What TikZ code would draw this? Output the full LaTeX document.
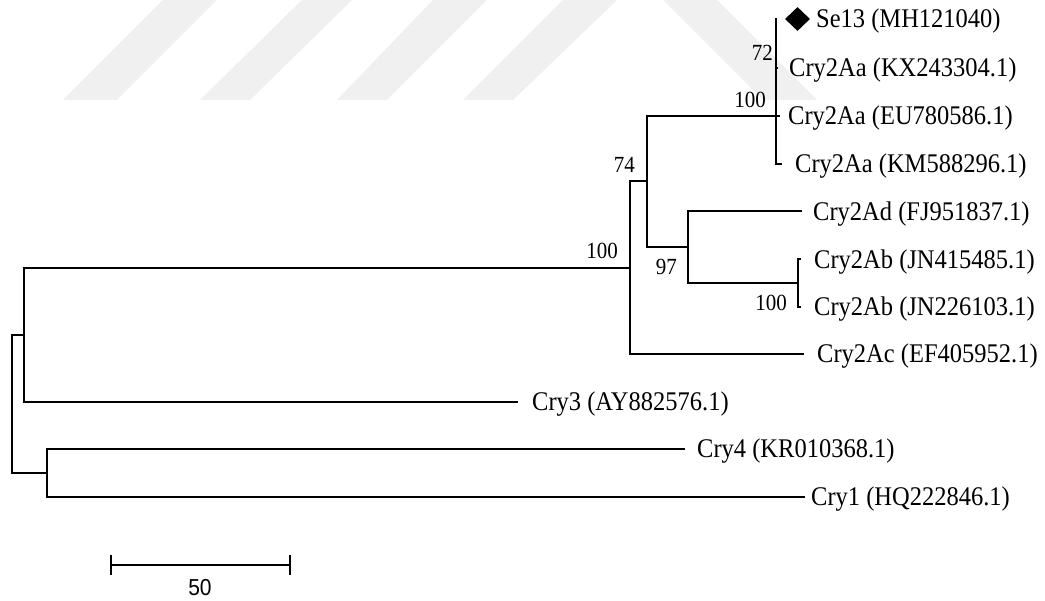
\documentclass[tikz,border=0pt]{standalone}
\usepackage{graphicx}
\usepackage{fontspec}
\setmainfont{Liberation Serif}
\newfontfamily\sansf{Liberation Sans}
\usetikzlibrary{shapes.geometric}
\newcommand\tallt[1]{\scalebox{1}[1.1]{#1}}
\begin{document}
\begin{tikzpicture}[x=1pt,y=-1pt,
  branch/.style={line width=2pt, line join=miter},
  leaf/.style={anchor=base west, inner sep=0pt, font=\fontsize{24.5}{28}\selectfont},
  boot/.style={anchor=base east, inner sep=0pt, font=\fontsize{21}{24}\selectfont},
  wm/.style={fill=black!6, draw=none}]
\useasboundingbox[fill=white] (0,0) rectangle (1045,601);
% faint watermark
\fill[wm] (63,100) -- (117,100) -- (217,0) -- (163,0) -- cycle;
\fill[wm] (200,100) -- (250,100) -- (352,0) -- (302,0) -- cycle;
\fill[wm] (337,100) -- (387,100) -- (487,0) -- (433,0) -- cycle;
\fill[wm] (463,100) -- (513,100) -- (617,0) -- (563,0) -- cycle;
\fill[wm] (663,0) -- (717,0) -- (817,100) -- (763,100) -- cycle;

% tips
\coordinate (t1) at (777,19);
\coordinate (t2) at (778,68);
\coordinate (t3) at (780,116);
\coordinate (t4) at (782,164);
\coordinate (t5) at (802,211.5);
\coordinate (t6) at (801,259.5);
\coordinate (t7) at (801,307);
\coordinate (t8) at (804,354);
\coordinate (t9) at (518,402);
\coordinate (t10) at (685,449);
\coordinate (t11) at (805,497);
% internal nodes
\coordinate (nA) at (776,116);
\coordinate (n74) at (647,181.5);
\coordinate (n97) at (688,247);
\coordinate (nAb) at (798,283);
\coordinate (n100) at (630,268);
\coordinate (nR2) at (23.5,335);
\coordinate (nC14) at (46.5,473);
\coordinate (root) at (11.5,404);

% branches
\draw[branch] (root) |- (nR2);
\draw[branch] (root) |- (nC14);
\draw[branch] (nR2) |- (n100);
\draw[branch] (nR2) |- (t9);
\draw[branch] (nC14) |- (t10);
\draw[branch] (nC14) |- (t11);
\draw[branch] (n100) |- (n74);
\draw[branch] (n100) |- (t8);
\draw[branch] (n74) |- (nA);
\draw[branch] (n74) |- (n97);
\draw[branch] (n97) |- (t5);
\draw[branch] (n97) |- (nAb);
\draw[branch] (nAb) |- (t6);
\draw[branch] (nAb) |- (t7);
\draw[branch] (nA) |- (t1);
\draw[branch] (nA) |- (t2);
\draw[branch] (nA) |- (t3);
\draw[branch] (nA) |- (t4);

% marker
\node[diamond, fill=black, minimum width=25pt, minimum height=24pt, inner sep=0pt] (mark) at (797.5,19) {};

% leaf labels
\node[leaf] (l1) at (816,28) {\tallt{Se13 (MH121040)}};
\node[leaf] (l2) at (789,77) {\tallt{Cry2Aa (KX243304.1)}};
\node[leaf] (l3) at (788,125) {\tallt{Cry2Aa (EU780586.1)}};
\node[leaf] (l4) at (795,173) {\tallt{Cry2Aa (KM588296.1)}};
\node[leaf] (l5) at (813,220.5) {\tallt{Cry2Ad (FJ951837.1)}};
\node[leaf] (l6) at (814,268.5) {\tallt{Cry2Ab (JN415485.1)}};
\node[leaf] (l7) at (814,316) {\tallt{Cry2Ab (JN226103.1)}};
\node[leaf] (l8) at (817,363) {\tallt{Cry2Ac (EF405952.1)}};
\node[leaf] (l9) at (532,411) {\tallt{Cry3 (AY882576.1)}};
\node[leaf] (l10) at (697,458) {\tallt{Cry4 (KR010368.1)}};
\node[leaf] (l11) at (811,506) {\tallt{Cry1 (HQ222846.1)}};

% bootstrap values
\node[boot] (b72) at (773,61) {\tallt{72}};
\node[boot] (bA) at (766,108) {\tallt{100}};
\node[boot] (b74) at (635,173) {\tallt{74}};
\node[boot] (b100) at (618,259) {\tallt{100}};
\node[boot] (b97) at (677,275) {\tallt{97}};
\node[boot] (bAb) at (787,311) {\tallt{100}};

% scale bar
\coordinate (sb1) at (111,565);
\coordinate (sb2) at (290,565);
\draw[branch] (sb1) -- (sb2);
\draw[branch] ([yshift=-10pt]sb1) -- ([yshift=10pt]sb1);
\draw[branch] ([yshift=-10pt]sb2) -- ([yshift=10pt]sb2);
\node[anchor=base, inner sep=0pt, font=\sansf\fontsize{21}{24}\selectfont] (sblab) at (200,595) {\tallt{50}};
\end{tikzpicture}
\end{document}
